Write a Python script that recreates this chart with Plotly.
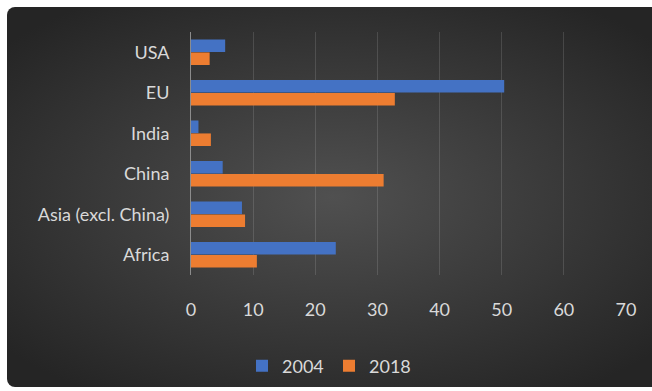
import base64
import plotly.graph_objects as go

# ---- data ----
categories = ["USA", "EU", "India", "China", "Asia (excl. China)", "Africa"]
values_2004 = [5.5, 50.4, 1.2, 5.1, 8.2, 23.3]
values_2018 = [3.0, 32.8, 3.2, 31.0, 8.7, 10.6]
series_names = ["2004", "2018"]
x_ticks = [0, 10, 20, 30, 40, 50, 60, 70]

# ---- style ----
W, H = 652, 391
L, R, T, B = 191, 26, 32, 116
pw, ph = W - L - R, H - T - B
font_color = "#d9d9d9"
font_family = "Lato, 'Open Sans', sans-serif"

svg = f'''<svg xmlns="http://www.w3.org/2000/svg" width="693" height="380" viewBox="0 0 693 380">
<defs><radialGradient id="g" cx="0.47" cy="0.5" r="0.62">
<stop offset="0" stop-color="#505050"/><stop offset="1" stop-color="#252525"/>
</radialGradient></defs>
<rect x="0" y="0" width="693" height="380" rx="8" ry="8" fill="url(#g)"/></svg>'''
src = "data:image/svg+xml;base64," + base64.b64encode(svg.encode()).decode()

fig = go.Figure()
fig.add_trace(go.Bar(y=categories, x=values_2004, name=series_names[0], orientation="h",
                     marker=dict(color="#4472C4", line=dict(width=0))))
fig.add_trace(go.Bar(y=categories, x=values_2018, name=series_names[1], orientation="h",
                     marker=dict(color="#ED7D31", line=dict(width=0))))

fig.update_layout(
    width=W, height=H,
    margin=dict(l=L, r=R, t=T, b=B, pad=0, autoexpand=False),
    paper_bgcolor="white",
    plot_bgcolor="rgba(0,0,0,0)",
    barmode="group",
    bargap=0.36,
    bargroupgap=0.03,
    font=dict(family=font_family, size=18, color=font_color),
    images=[dict(source=src, xref="paper", yref="paper",
                 x=(7 - L) / pw, y=(H - B - 7) / ph,
                 sizex=693 / pw, sizey=380 / ph,
                 xanchor="left", yanchor="top", sizing="stretch", layer="below")],
    xaxis=dict(range=[0, 70], tickvals=x_ticks, showgrid=True,
               gridcolor="rgba(255,255,255,0.13)", gridwidth=1, zeroline=False,
               showline=False, ticks="", ticklabelstandoff=22, fixedrange=True),
    yaxis=dict(autorange="reversed", showgrid=False, showline=True,
               linecolor="#8c8c8c", linewidth=1, ticks="", ticklabelstandoff=17,
               fixedrange=True),
    legend=dict(orientation="h", x=(329 - L) / pw, xanchor="center",
                y=(H - B - 366) / ph, yanchor="middle", entrywidth=42,
                font=dict(size=18, color=font_color), bgcolor="rgba(0,0,0,0)",
                itemclick=False),
    showlegend=True,
)

fig.write_html("out.html")
